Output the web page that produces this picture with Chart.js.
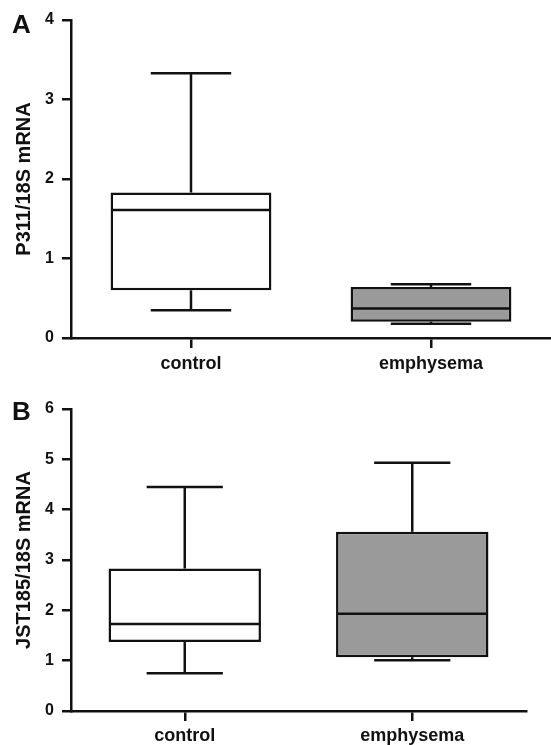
<!DOCTYPE html>
<html><head><meta charset="utf-8">
<script src="https://cdn.jsdelivr.net/npm/chart.js@4.4.0/dist/chart.umd.min.js"></script>
<style>
html,body{margin:0;padding:0;background:#fff;overflow:hidden;width:551px;height:745px}
canvas{position:absolute;left:0}
#a{top:0}
#b{top:382px}
</style></head>
<body>
<canvas id="a" width="551" height="382"></canvas>
<canvas id="b" width="551" height="363"></canvas>
<script>
// ---- data ----
const categories = ['control', 'emphysema'];
const panelLabels = ['A', 'B'];
const yTitles = ['P311/18S mRNA', 'JST185/18S mRNA'];
const yTicksA = [0, 1, 2, 3, 4];
const yTicksB = [0, 1, 2, 3, 4, 5, 6];

const minA = [0.35, 0.18];
const q1A  = [0.60, 0.205];
const medA = [1.61, 0.37];
const q3A  = [1.83, 0.64];
const maxA = [3.33, 0.675];

const minB = [0.75, 1.01];
const q1B  = [1.37, 1.07];
const medB = [1.73, 1.93];
const q3B  = [2.83, 3.56];
const maxB = [4.45, 4.93];

const boxColors = ['#ffffff', '#9a9a9a'];
const FONT = '"Liberation Sans", Arial, Helvetica, sans-serif';
const INK = '#111111';

const boxPlugin = {
  id: 'boxWhisker',
  afterDatasetsDraw(chart, args, opts) {
    const ctx = chart.ctx;
    const y = chart.scales.y;
    const meta = chart.getDatasetMeta(0);
    ctx.save();
    ctx.strokeStyle = INK;
    ctx.lineWidth = 2.5;
    ctx.lineCap = 'butt';
    const seg = (x1, y1, x2, y2) => { ctx.beginPath(); ctx.moveTo(x1, y1); ctx.lineTo(x2, y2); ctx.stroke(); };
    meta.data.forEach((bar, i) => {
      const x = bar.x, w = bar.width;
      const yMin = y.getPixelForValue(opts.min[i]);
      const yQ1 = y.getPixelForValue(opts.q1[i]);
      const yMed = y.getPixelForValue(opts.med[i]);
      const yQ3 = y.getPixelForValue(opts.q3[i]);
      const yMax = y.getPixelForValue(opts.max[i]);
      seg(x, yQ3, x, yMax);
      seg(x - w / 4, yMax, x + w / 4, yMax);
      seg(x, yQ1, x, yMin);
      seg(x - w / 4, yMin, x + w / 4, yMin);
      seg(x - w / 2 + 1, yMed, x + w / 2 - 1, yMed);
    });
    ctx.restore();
  }
};

const panelLabelPlugin = {
  id: 'panelLabel',
  afterDraw(chart, args, opts) {
    const ctx = chart.ctx;
    ctx.save();
    ctx.fillStyle = INK;
    ctx.font = 'bold 26px ' + FONT;
    ctx.textBaseline = 'alphabetic';
    ctx.textAlign = 'left';
    ctx.fillText(opts.text, opts.x, opts.y);
    ctx.restore();
  }
};

function makeChart(id, p) {
  return new Chart(document.getElementById(id), {
    type: 'bar',
    data: {
      labels: categories,
      datasets: [{
        data: categories.map((c, i) => [p.q1[i], p.q3[i]]),
        backgroundColor: boxColors,
        borderColor: INK,
        borderWidth: 2.5,
        borderSkipped: false,
        barPercentage: 0.67,
        categoryPercentage: 1
      }]
    },
    options: {
      responsive: false,
      animation: false,
      devicePixelRatio: 1,
      events: [],
      layout: { padding: { top: p.padTop, right: p.padRight, left: 0, bottom: 0 } },
      plugins: {
        legend: { display: false },
        tooltip: { enabled: false },
        boxWhisker: { min: p.min, q1: p.q1, med: p.med, q3: p.q3, max: p.max },
        panelLabel: { text: p.label, x: 12, y: p.labelY }
      },
      scales: {
        x: {
          offset: true,
          grid: { display: true, drawOnChartArea: false, drawTicks: true, tickLength: 10, color: INK, lineWidth: 2.5, offset: false },
          border: { display: true, color: INK, width: 2.5 },
          ticks: { color: INK, font: { family: FONT, size: 18, weight: 'bold' }, padding: p.xPad, maxRotation: 0 },
          afterFit: s => { s.height = p.xHeight; }
        },
        y: {
          min: p.yTicks[0],
          max: p.yTicks[p.yTicks.length - 1],
          afterBuildTicks: s => { s.ticks = p.yTicks.map(v => ({ value: v })); },
          grid: { display: true, drawOnChartArea: false, drawTicks: true, tickLength: 9, color: INK, lineWidth: 2.5 },
          border: { display: true, color: INK, width: 2.5 },
          ticks: { color: INK, font: { family: FONT, size: 16, weight: 'bold' }, padding: 8 },
          title: { display: true, text: p.title, color: INK, font: { family: FONT, size: 20, weight: 'bold' }, padding: { top: 12, bottom: 0 } },
          afterFit: s => { s.width = 71; }
        }
      }
    },
    plugins: [boxPlugin, panelLabelPlugin]
  });
}

makeChart('a', {
  min: minA, q1: q1A, med: medA, q3: q3A, max: maxA,
  yTicks: yTicksA, title: yTitles[0], label: panelLabels[0], labelY: 33,
  padTop: 20, padRight: 0, xHeight: 44, xPad: 5
});
makeChart('b', {
  min: minB, q1: q1B, med: medB, q3: q3B, max: maxB,
  yTicks: yTicksB, title: yTitles[1], label: panelLabels[1], labelY: 38,
  padTop: 27, padRight: 25, xHeight: 34, xPad: 4
});
</script>
</body></html>
